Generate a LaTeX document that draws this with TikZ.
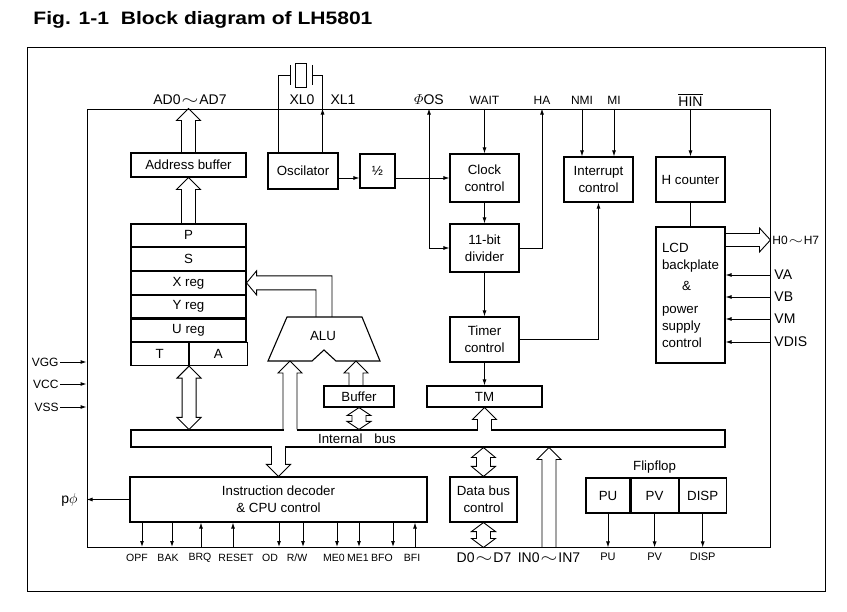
\documentclass[tikz,border=0pt]{standalone}
\usepackage{amsmath}
\usepackage{fontspec}
\setmainfont{Liberation Sans}
\usetikzlibrary{positioning,calc,arrows.meta}

\newcommand{\wave}{\kern1pt\scalebox{1.5}[1.1]{$\sim$}\kern1pt}
\newcommand{\busup}[3][0pt]{%
	\fill[white] let \p1=#2, \p2=#3 in (\x1-6.5pt,\y1-#1) rectangle (\x1+6.5pt,\y2-12pt);
	\draw let \p1=#2, \p2=#3 in (\x1-7pt,\y1) |- (\x1-12pt,\y2-12pt) -- (\x1,\y2) -- (\x1+12pt,\y2-12pt) -| (\x1+7pt,\y1);}
\newcommand{\busdown}[3][0pt]{%
	\fill[white] let \p1=#2, \p2=#3 in (\x1-6.5pt,\y1+#1) rectangle (\x1+6.5pt,\y2+12pt);
	\draw let \p1=#2, \p2=#3 in (\x1-7pt,\y1) |- (\x1-12pt,\y2+12pt) -- (\x1,\y2) -- (\x1+12pt,\y2+12pt) -| (\x1+7pt,\y1);}
\newcommand{\busboth}[3][12pt]{%
	\draw[fill=white] let \p1=#2, \p2=#3 in (\x1,\y1) -- (\x1-12pt,\y1+#1) -- (\x1-7pt,\y1+#1) -- (\x1-7pt,\y2-#1) -- (\x1-12pt,\y2-#1) -- (\x1,\y2) -- (\x1+12pt,\y2-#1) -- (\x1+7pt,\y2-#1) -- (\x1+7pt,\y1+#1) -- (\x1+12pt,\y1+#1) -- cycle;}

\begin{document}
\begin{tikzpicture}[x=1pt, y=-1pt, line width=0.9pt, >={Latex[length=6pt,width=4pt]},
	blk/.style={draw, line width=1.1pt, align=center, inner sep=0pt, font=\fontsize{13.3}{17}\selectfont},
	reg/.style={blk, minimum width=115, minimum height=22.67},
	pin/.style={inner sep=1pt, font=\fontsize{12}{14}\selectfont},
	bigpin/.style={inner sep=1pt, font=\fontsize{14}{16}\selectfont},
	sig/.style={inner sep=1pt, font=\fontsize{10.5}{12}\selectfont}]
	\useasboundingbox (0,0) rectangle (847,612);
	\node[anchor=west, inner sep=0, font=\bfseries\fontsize{18}{20}\selectfont] (title) at (33,20) {\scalebox{1.17}[1]{Fig. 1-1\ \ Block diagram of LH5801}};
	\draw (27,47) rectangle (825,591);
	\node[draw, minimum width=683, minimum height=438, inner sep=0] (chip) at (428.5,328) {};

	\node[blk, minimum width=115, minimum height=24] (addr) at (188.5,165) {Address buffer};
	\node[reg] (regP) at (188.5,235.33) {P};
	\node[reg, below=0pt of regP] (regS) {S};
	\node[reg, below=0pt of regS] (regX) {X reg};
	\node[reg, below=0pt of regX] (regY) {Y reg};
	\node[reg, below=0pt of regY] (regU) {U reg};
	\node[blk, minimum width=57.5, minimum height=22.67, below right=0pt and 0pt of regU.south west] (regT) {T};
	\node[blk, minimum width=57.5, minimum height=22.67, right=0pt of regT] (regA) {A};
	\node[blk, minimum width=70, minimum height=36] (osc) at (303,171) {Oscilator};
	\node[blk, minimum width=35, minimum height=34] (half) at (377.5,171) {½};
	\node[blk, minimum width=69, minimum height=48] (clk) at (484.5,178) {Clock\\control};
	\node[blk, minimum width=69, minimum height=48] (div) at (484.5,248) {11-bit\\divider};
	\node[blk, minimum width=69, minimum height=45] (tmr) at (484.5,339.5) {Timer\\control};
	\node[blk, minimum width=115, minimum height=21] (tm) at (484.5,396.5) {TM};
	\node[blk, minimum width=69, minimum height=45] (intr) at (598.5,179.5) {Interrupt\\control};
	\node[blk, minimum width=69, minimum height=45] (hcnt) at (690.5,179.5) {H counter};
	\node[blk, minimum width=69, minimum height=136, align=left] (lcd) at (690.5,295) {LCD\\backplate\\[4pt]\hspace*{20pt}\&\\[6pt]power\\supply\\control};
	\node[blk, minimum width=70, minimum height=21] (buf) at (359,396.5) {Buffer};
	\node[blk, minimum width=594, minimum height=17] (bus) at (428,438.5) {};
	\node[blk, draw=none] (buslbl) at (357,439) {Internal\hspace{12pt}bus};
	\node[blk, minimum width=297, minimum height=45] (dec) at (278.5,499.5) {Instruction decoder\\\& CPU control};
	\node[blk, minimum width=67, minimum height=45] (dbc) at (483.5,499.5) {Data bus\\control};
	\node[blk, minimum width=44, minimum height=35] (pu) at (608,495.5) {PU};
	\node[blk, minimum width=47, minimum height=35, right=0pt of pu] (pv) {PV};
	\node[blk, minimum width=47, minimum height=35, right=0pt of pv] (dsp) {DISP};
	\node[blk, draw=none, above=4pt of pv] (ff) {Flipflop};

	\draw[line width=1.1pt] (268,361) -- (287,317) -- (362,317) -- (380,361) -- (336,361) -- (324,350) -- (312,361) -- cycle;
	\node[blk, draw=none] (alu) at (323,336) {ALU};
	\coordinate (aluout) at (324,317);
	\coordinate (aluina) at (290,361);
	\coordinate (aluinb) at (356,361);

	\node[bigpin] (ad) at (190,100) {AD0\wave AD7};
	\node[bigpin] (xl0) at (302,100) {XL0};
	\node[bigpin] (xl1) at (343,100) {XL1};
	\node[bigpin] (phios) at (429,100) {$\varPhi$OS};
	\node[pin] (wait) at (484.5,100) {WAIT};
	\node[pin] (ha) at (542,100) {HA};
	\node[pin] (nmi) at (582,100) {NMI};
	\node[pin] (mi) at (614,100) {MI};
	\node[bigpin] (hin) at (690.5,100) {$\overline{\mbox{HIN}}$};
	\node[pin, anchor=west] (h0) at (771,240) {H0\wave H7};
	\node[bigpin, anchor=west] (va) at (773,275) {VA};
	\node[bigpin, anchor=west] (vb) at (773,297) {VB};
	\node[bigpin, anchor=west] (vm) at (773,319) {VM};
	\node[bigpin, anchor=west] (vdis) at (773,342) {VDIS};
	\node[pin, anchor=east] (vgg) at (60,362) {VGG};
	\node[pin, anchor=east] (vcc) at (60,384) {VCC};
	\node[pin, anchor=east] (vss) at (60,407) {VSS};
	\node[bigpin, anchor=east] (pphi) at (79,500) {p$\phi$};
	\node[bigpin] (dpin) at (484,558) {D0\wave D7};
	\node[bigpin] (inpin) at (549,558) {IN0\wave IN7};

	% crystal
	\coordinate (xa) at (290,75);
	\coordinate (xb) at (312,75);
	\coordinate (xl1pin) at ($(osc.north east)+(-16,0)$);
	\draw (290,65) -- (290,85) (312,65) -- (312,85);
	\draw (295,63) rectangle (306,87);
	\draw ($(osc.north west)+(11,0)$) |- (xa);
	\draw[->] (xl1pin) -- (xl1pin |- chip.north);
	\draw (xl1pin |- chip.north) |- (xb);

	\draw[->] (osc.east |- clk.west) -- (half.west |- clk.west);
	\draw[->] (half.east |- clk.west) -- (clk.west);
	\draw[<->] (phios.south |- chip.north) |- (div.west);
	\draw[->] (clk.north |- chip.north) -- (clk.north);
	\draw[->] (clk) -- (div);
	\draw[->] (div.east) -| (ha.south |- chip.north);
	\draw[->] (div) -- (tmr);
	\draw[->] (tmr) -- (tm);
	\draw[->] (tmr.east) -| (intr.south);
	\draw[->] (nmi.south |- chip.north) -- (nmi.south |- intr.north);
	\draw[->] (mi.south |- chip.north) -- (mi.south |- intr.north);
	\draw[->] (hcnt.north |- chip.north) -- (hcnt.north);
	\draw (hcnt) -- (lcd);
	\foreach \v in {va,vb,vm,vdis}
		\draw[->] (\v.west -| chip.east) -- (\v.west -| lcd.east);
	\foreach \v in {vgg,vcc,vss}
		\draw[->] (\v.east) -- (\v.east -| chip.west);
	\draw[->] (dec.west) -- (dec.west -| chip.west);

	% bus arrows
	\busup{(regP.north)}{(addr.south)}
	\busup{(addr.north)}{(addr.north |- chip.north)}
	\busup[1.5pt]{(aluina |- bus.north)}{(aluina)}
	\busup{(aluinb |- buf.north)}{(aluinb)}
	\busup[1.5pt]{(tm.south |- bus.north)}{(tm.south)}
	\busdown[1.5pt]{(dec.north |- bus.south)}{(dec.north)}
	\busup{(inpin.north |- chip.south)}{(inpin.north |- bus.south)}
	\busboth{(regA.south west |- bus.north)}{(regA.south west)}
	\busboth[8pt]{(buf.south |- bus.north)}{(buf.south)}
	\busboth[10pt]{(dbc.north)}{(dbc.north |- bus.south)}
	\busboth[9pt]{(dbc.south |- chip.south)}{(dbc.south)}
	\draw let \p1=(lcd.east |- h0.west), \p2=(chip.east |- h0.west) in (\x1,\y1+6.5pt) -- (\x2-11pt,\y1+6.5pt) -- (\x2-11pt,\y1+12pt) -- (\x2,\y1) -- (\x2-11pt,\y1-12pt) -- (\x2-11pt,\y1-6.5pt) -- (\x1,\y1-6.5pt);
	\draw let \p1=(aluout), \p2=(regX.east) in (\x1-8pt,\y1) |- (\x2+10pt,\y2-7pt) -- (\x2+10pt,\y2-12pt) -- (\x2,\y2) -- (\x2+10pt,\y2+12pt) -- (\x2+10pt,\y2+7pt) -| (\x1+8pt,\y1);

	% control pins
	\foreach \ax/\lx/\txt [count=\i] in {142/137/OPF, 172/168/BAK, 279/270/OD, 303/297/{R/W}, 337/334/ME0, 359/358/ME1, 393/382/BFO}{
		\node[sig] (out\i) at (\lx,558) {\txt};
		\coordinate (o\i) at (\ax,547);
		\draw[->] (dec.south -| o\i) -- (o\i);
	}
	\foreach \ax/\lx/\txt [count=\i] in {201/200/BRQ, 233/236/RESET, 415/412/BFI}{
		\node[sig] (in\i) at (\lx,558) {\txt};
		\coordinate (c\i) at (\ax,547);
		\draw[->] (c\i) -- (dec.south -| c\i);
	}
	\foreach \n/\t in {pu/PU, pv/PV, dsp/DISP}{
		\draw[->] (\n.south) -- (\n.south |- chip.south);
		\node[pin, font=\fontsize{11}{13}\selectfont, below=4pt of \n.south |- chip.south] (\n pin) {\t};
	}
\end{tikzpicture}
\end{document}
